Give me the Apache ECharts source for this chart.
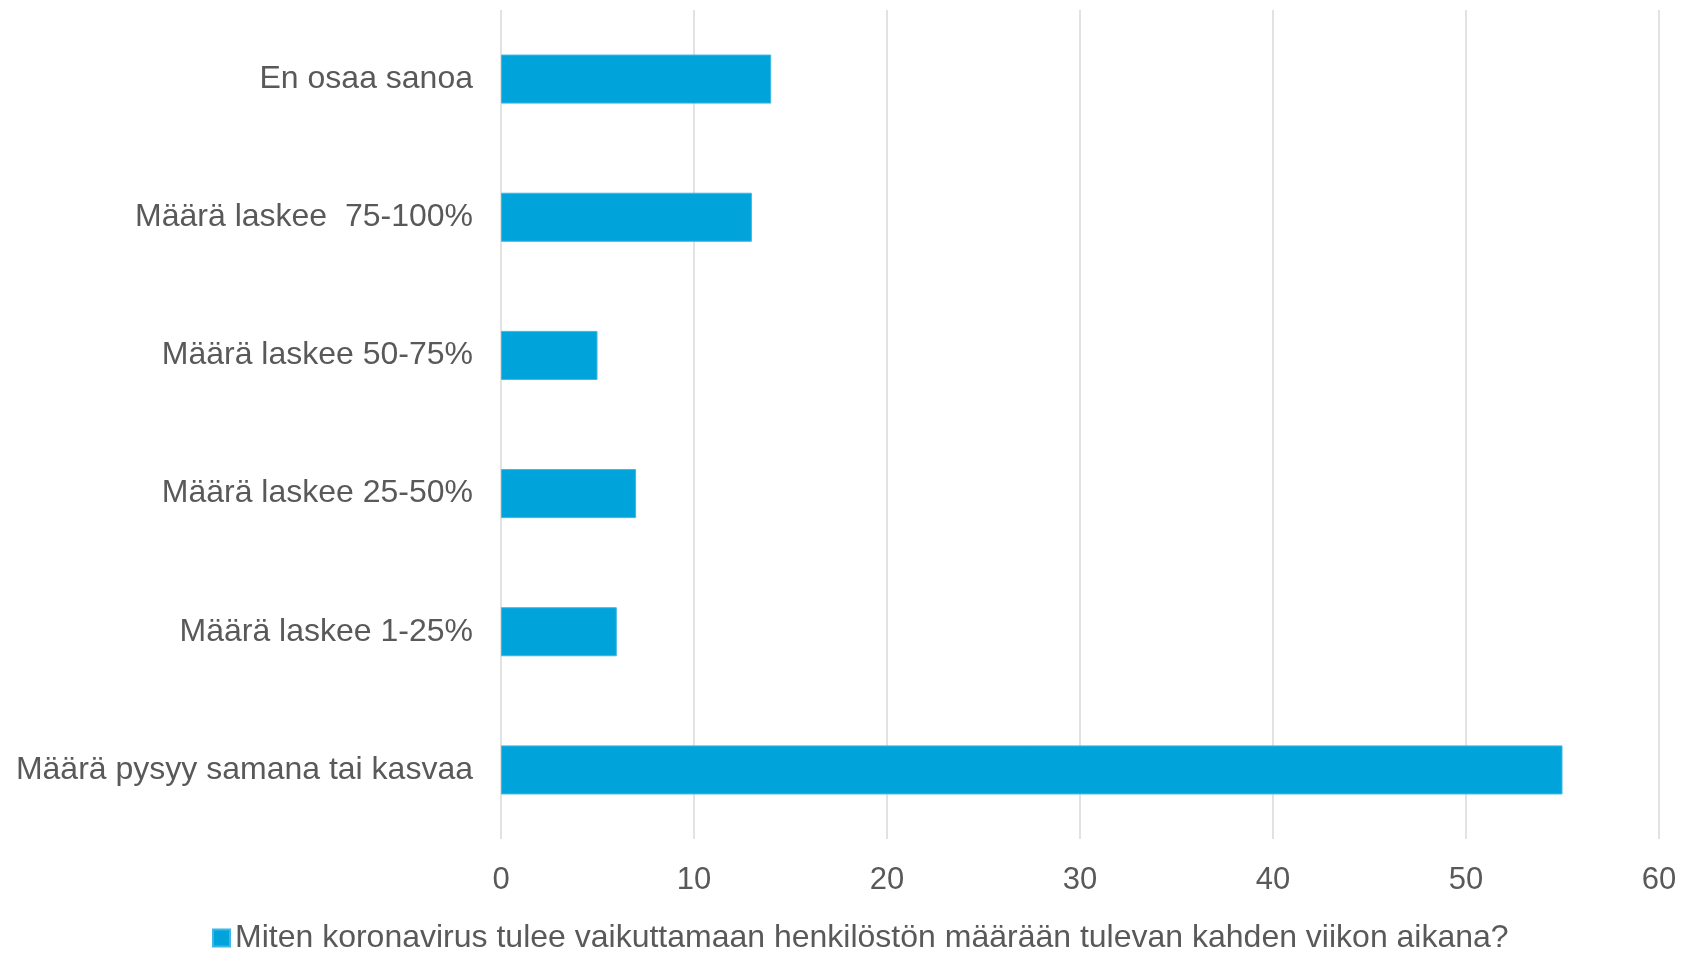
<!DOCTYPE html>
<html>
<head>
<meta charset="utf-8">
<script src="https://cdn.jsdelivr.net/npm/echarts@6/dist/echarts.min.js"></script>
<style>
html, body { margin: 0; padding: 0; background: #fff; }
#chart { width: 1685px; height: 953px; }
</style>
</head>
<body>
<div id="chart"></div>
<script>
const categories = ['En osaa sanoa', 'Määrä laskee  75-100%', 'Määrä laskee 50-75%', 'Määrä laskee 25-50%', 'Määrä laskee 1-25%', 'Määrä pysyy samana tai kasvaa']
const values = [14, 13, 5, 7, 6, 55]
const seriesName = 'Miten koronavirus tulee vaikuttamaan henkilöstön määrään tulevan kahden viikon aikana?'

const chart = echarts.init(document.getElementById('chart'))
const font = '"Liberation Sans", Arial, sans-serif'
const option = {
    animation: false,
    textStyle: { fontFamily: font },
    grid: { left: 501, right: 26, top: 10, bottom: 114, containLabel: false },
    legend: {
        data: [seriesName],
        left: 207,
        top: 917,
        icon: 'rect',
        itemWidth: 17,
        itemHeight: 17,
        itemGap: 8,
        textStyle: { fontSize: 32, color: '#595959', fontFamily: font }
    },
    xAxis: {
        type: 'value',
        min: 0,
        max: 60,
        interval: 10,
        axisLine: { show: false },
        axisTick: { show: false },
        axisLabel: { fontSize: 31, color: '#595959', margin: 26, fontFamily: font },
        splitLine: { lineStyle: { color: '#d9d9d9', width: 1.5 } }
    },
    yAxis: {
        type: 'category',
        data: categories,
        inverse: true,
        axisLine: { show: false },
        axisTick: { show: false },
        axisLabel: { fontSize: 32, color: '#595959', margin: 28, fontFamily: font }
    },
    series: [{
        name: seriesName,
        type: 'bar',
        data: values,
        barWidth: '35.5%',
        itemStyle: { color: '#00a3da', borderColor: '#3db8e6', borderWidth: 1 }
    }]
}
chart.setOption(option)
</script>
</body>
</html>
